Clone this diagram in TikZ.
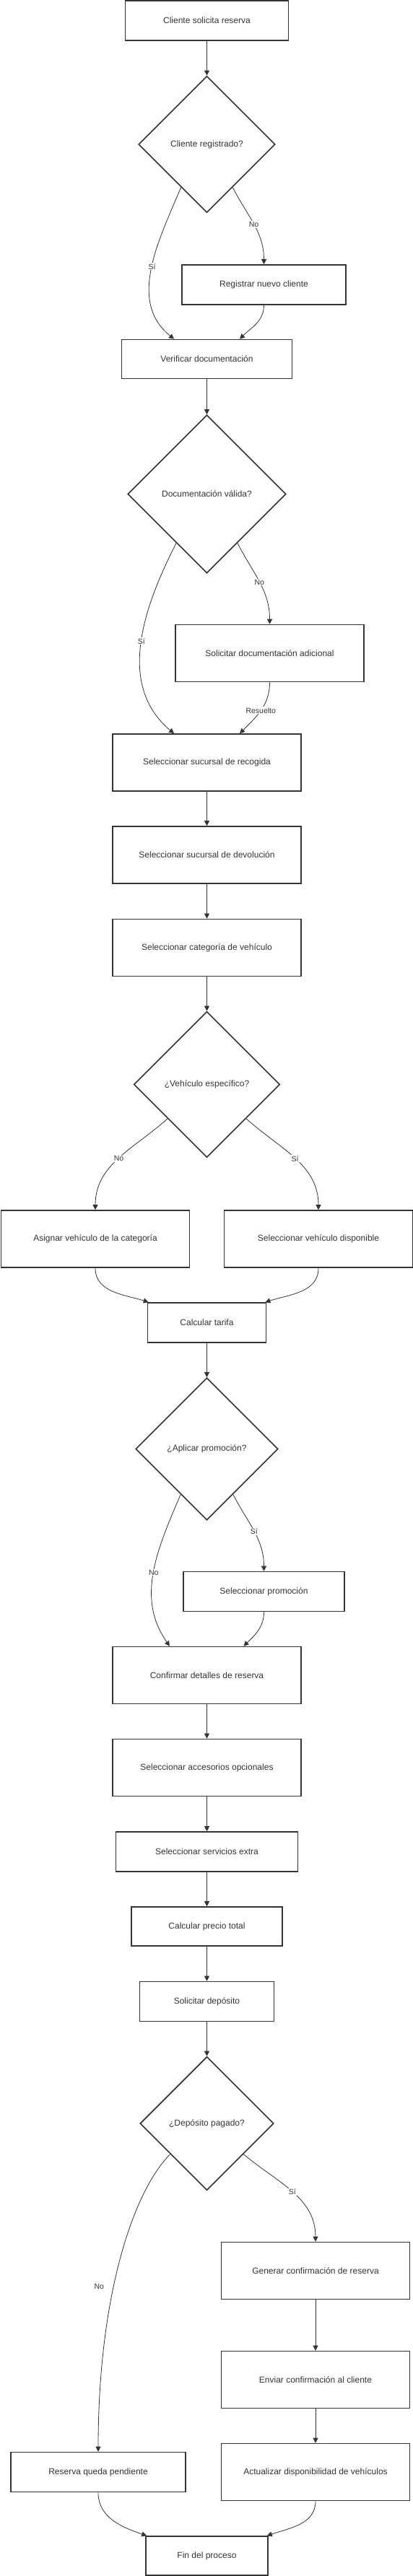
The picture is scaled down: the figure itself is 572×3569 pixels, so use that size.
\documentclass[tikz,border=0pt]{standalone}
\usepackage{fontspec}
\setmainfont{Liberation Sans}
\usetikzlibrary{shapes.geometric,arrows.meta}
\definecolor{ink}{HTML}{333333}
\tikzstyle{box}=[draw=ink, line width=1.6pt, rectangle, minimum height=55pt, text=ink, font=\fontsize{12}{14}\selectfont]
\tikzstyle{tall}=[box, minimum height=79pt, minimum width=261pt]
\tikzstyle{decide}=[draw=ink, line width=1.6pt, diamond, inner sep=0pt, text=ink, font=\fontsize{12}{14}\selectfont]
\tikzstyle{flow}=[draw=ink, line width=0.8pt, -{Triangle[length=7pt,width=7pt]}]
\tikzstyle{lbl}=[fill=white, text=ink, inner sep=1pt, font=\fontsize{10.5}{12}\selectfont]

\begin{document}
\begin{tikzpicture}[x=1pt,y=1pt]
	\useasboundingbox (0,0) rectangle (572,-3569);
	% steps of the booking
	\node[box, minimum width=226pt] (start) at (286.5,-28.5) {Cliente solicita reserva};
	\node[decide, minimum width=189pt, minimum height=189pt] (q1) at (286.5,-200) {Cliente registrado?};
	\node[box, minimum width=227pt] (reg) at (365.5,-394.5) {Registrar nuevo cliente};
	\node[box, minimum width=236pt, minimum height=54pt] (verif) at (286.5,-497.5) {Verificar documentación};
	\node[decide, minimum width=219pt, minimum height=219pt] (q2) at (286.5,-684.5) {Documentación válida?};
	\node[tall] (docs) at (373.5,-905) {Solicitar documentación adicional};
	\node[tall] (pick) at (286.5,-1056.5) {Seleccionar sucursal de recogida};
	\node[tall] (drop) at (286.5,-1184.5) {Seleccionar sucursal de devolución};
	\node[tall] (cat) at (286.5,-1313) {Seleccionar categoría de vehículo};
	\node[decide, minimum width=202pt, minimum height=202pt] (q3) at (286.5,-1502.5) {¿Vehículo específico?};
	\node[tall] (assign) at (132,-1716.5) {Asignar vehículo de la categoría};
	\node[tall] (choose) at (441,-1716.5) {Seleccionar vehículo disponible};
	\node[box, minimum width=164pt] (rate) at (286.5,-1832.5) {Calcular tarifa};
	\node[decide, minimum width=197pt, minimum height=197pt] (q4) at (286.5,-2007.5) {¿Aplicar promoción?};
	\node[box, minimum width=223pt] (promo) at (365.5,-2205) {Seleccionar promoción};
	\node[tall] (confirm) at (286.5,-2321) {Confirmar detalles de reserva};
	\node[tall] (extras) at (286.5,-2449) {Seleccionar accesorios opcionales};
	\node[box, minimum width=252pt] (services) at (286.5,-2565.5) {Seleccionar servicios extra};
	\node[box, minimum width=209pt, minimum height=54pt] (total) at (286.5,-2669) {Calcular precio total};
	\node[box, minimum width=186pt] (deposit) at (286.5,-2773) {Solicitar depósito};
	\node[decide, minimum width=185pt, minimum height=185pt] (q5) at (286.5,-2942) {¿Depósito pagado?};
	\node[tall] (gen) at (437,-3146) {Generar confirmación de reserva};
	\node[tall] (send) at (437,-3297) {Enviar confirmación al cliente};
	\node[tall] (update) at (437,-3425) {Actualizar disponibilidad de vehículos};
	\node[box, minimum width=242pt] (pending) at (136,-3425) {Reserva queda pendiente};
	\node[box, minimum width=169pt, minimum height=54pt] (finish) at (286.5,-3541) {Fin del proceso};

	% connectors
	\draw[flow] (start) -- (q1);
	\draw[flow] (q1.239) to[out=-113,in=141] node[lbl,pos=0.48] {Sí} ([xshift=-45.5pt]verif.north);
	\draw[flow] (q1.301) to[out=-63,in=90] node[lbl] {No} (reg.north);
	\draw[flow] (reg.south) to[out=-90,in=45] ([xshift=45.5pt]verif.north);
	\draw[flow] (verif) -- (q2);
	\draw[flow] (q2.238) to[out=-117,in=140] node[lbl,pos=0.48] {Sí} ([xshift=-45.5pt]pick.north);
	\draw[flow] (q2.302) to[out=-63,in=90] node[lbl] {No} (docs.north);
	\draw[flow] (docs.south) to[out=-90,in=45] node[lbl] {Resuelto} ([xshift=45.5pt]pick.north);
	\draw[flow] (pick) -- (drop);
	\draw[flow] (drop) -- (cat);
	\draw[flow] (cat) -- (q3);
	\draw[flow] (q3.221) to[out=-138,in=90] node[lbl] {No} (assign.north);
	\draw[flow] (q3.319) to[out=-42,in=90] node[lbl] {Sí} (choose.north);
	\draw[flow] (assign.south) to[out=-90,in=162] ([xshift=2pt]rate.north west);
	\draw[flow] (choose.south) to[out=-90,in=18] ([xshift=-2pt]rate.north east);
	\draw[flow] (rate) -- (q4);
	\draw[flow] (q4.240) to[out=-113,in=125] node[lbl] {No} ([xshift=-51.5pt]confirm.north);
	\draw[flow] (q4.300) to[out=-63,in=90] node[lbl] {Sí} (promo.north);
	\draw[flow] (promo.south) to[out=-90,in=45] ([xshift=51pt]confirm.north);
	\draw[flow] (confirm) -- (extras);
	\draw[flow] (extras) -- (services);
	\draw[flow] (services) -- (total);
	\draw[flow] (total) -- (deposit);
	\draw[flow] (deposit) -- (q5);
	\draw[flow] (q5.220) .. controls (185,-3035) and (136,-3180) .. node[lbl,pos=0.59,anchor=east,xshift=-12pt] {No} (pending.north);
	\draw[flow] (q5.320) to[out=-40,in=90] node[lbl] {Sí} (gen.north);
	\draw[flow] (gen) -- (send);
	\draw[flow] (send) -- (update);
	\draw[flow] (pending.south) to[out=-90,in=161] ([xshift=2pt]finish.north west);
	\draw[flow] (update.south) to[out=-90,in=19] ([xshift=-2pt]finish.north east);
\end{tikzpicture}
\end{document}
